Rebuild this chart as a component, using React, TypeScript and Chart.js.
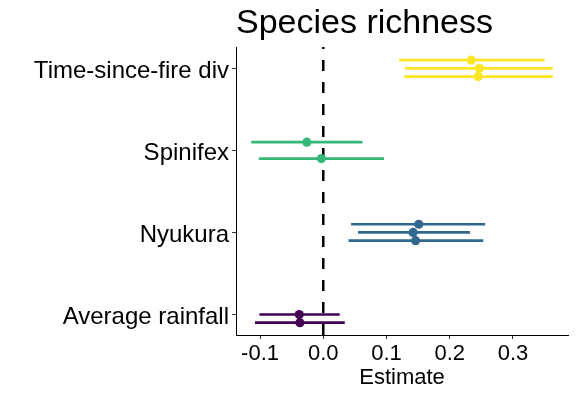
import React, { useEffect, useRef } from 'react';
import { Chart, registerables } from 'chart.js';

Chart.register(...registerables);

const chartTitle = 'Species richness';
const xAxisTitle = 'Estimate';

// Categories listed top to bottom
const categories = ['Time-since-fire div', 'Spinifex', 'Nyukura', 'Average rainfall'];
const colors = ['#FDE725', '#35B779', '#31688E', '#440154'];

// Model index (1 = top row of dodge, 2 = middle, 3 = bottom)
const tsfModel = [1, 2, 3];
const tsfEstimate = [0.234, 0.247, 0.245];
const tsfLower = [0.120, 0.129, 0.128];
const tsfUpper = [0.350, 0.363, 0.363];

const spinModel = [1, 3];
const spinEstimate = [-0.026, -0.003];
const spinLower = [-0.114, -0.102];
const spinUpper = [0.062, 0.096];

const nyuModel = [1, 2, 3];
const nyuEstimate = [0.151, 0.142, 0.146];
const nyuLower = [0.044, 0.055, 0.040];
const nyuUpper = [0.256, 0.232, 0.253];

const rainModel = [2, 3];
const rainEstimate = [-0.038, -0.037];
const rainLower = [-0.101, -0.108];
const rainUpper = [0.026, 0.034];

const xTicks = [-0.1, 0, 0.1, 0.2, 0.3];
const refLine = 0;

const groups = [
  { model: tsfModel, est: tsfEstimate, lo: tsfLower, hi: tsfUpper },
  { model: spinModel, est: spinEstimate, lo: spinLower, hi: spinUpper },
  { model: nyuModel, est: nyuEstimate, lo: nyuLower, hi: nyuUpper },
  { model: rainModel, est: rainEstimate, lo: rainLower, hi: rainUpper },
];

const DODGE = 0.1;
const X_MIN = -0.138;
const X_MAX = 0.387;
const Y_MIN = 0.75;
const Y_MAX = 4.26;
const FONT = '"Liberation Sans", Arial, Helvetica, sans-serif';

export default function App() {
  const ref = useRef<HTMLCanvasElement>(null);

  useEffect(() => {
    document.body.style.margin = '0';
    const datasets: any[] = [];
    groups.forEach((g, gi) => {
      const base = categories.length - gi;
      g.est.forEach((_e, j) => {
        const y = base + (2 - g.model[j]) * DODGE;
        datasets.push({
          data: [{ x: g.lo[j], y }, { x: g.hi[j], y }],
          showLine: true,
          borderColor: colors[gi],
          borderWidth: 2.7,
          pointRadius: 0,
          order: 2,
        });
      });
      datasets.push({
        data: g.est.map((e, j) => ({ x: e, y: base + (2 - g.model[j]) * DODGE })),
        backgroundColor: colors[gi],
        borderColor: colors[gi],
        pointRadius: 4.6,
        borderWidth: 0,
        order: 0,
      });
    });
    datasets.push({
      data: [{ x: refLine, y: Y_MIN }, { x: refLine, y: Y_MAX }],
      showLine: true,
      borderColor: '#000',
      borderWidth: 2.5,
      borderDash: [11, 11],
      pointRadius: 0,
      order: 1,
    });

    const titlePlugin = {
      id: 'customTitle',
      afterDraw(chart: any) {
        const ctx = chart.ctx;
        ctx.save();
        ctx.font = `34px ${FONT}`;
        ctx.fillStyle = '#000';
        ctx.textBaseline = 'alphabetic';
        ctx.textAlign = 'left';
        ctx.fillText(chartTitle, chart.chartArea.left, 33);
        ctx.restore();
      },
    };

    const chart = new Chart(ref.current!, {
      type: 'scatter',
      data: { datasets },
      plugins: [titlePlugin],
      options: {
        animation: false,
        responsive: false,
        layout: { padding: { top: 47, right: 8, left: 0, bottom: 0 } },
        plugins: { legend: { display: false }, tooltip: { enabled: false } },
        scales: {
          x: {
            type: 'linear',
            min: X_MIN,
            max: X_MAX,
            afterBuildTicks: (s: any) => {
              s.ticks = xTicks.map((v) => ({ value: v }));
            },
            afterFit: (s: any) => {
              s.height = 63;
            },
            ticks: {
              callback: (v: any) => Number(v).toFixed(1),
              font: { size: 22, family: FONT },
              color: '#000',
              padding: 2,
              maxRotation: 0,
              autoSkip: false,
            },
            grid: { drawOnChartArea: false, tickLength: 4, color: '#333' },
            border: { color: '#000', width: 1 },
            title: {
              display: true,
              text: xAxisTitle,
              font: { size: 22, family: FONT },
              color: '#000',
              padding: { top: 0, bottom: 7 },
            },
          },
          y: {
            type: 'linear',
            min: Y_MIN,
            max: Y_MAX,
            afterBuildTicks: (s: any) => {
              s.ticks = categories.map((_c, i) => ({ value: categories.length - i }));
            },
            afterFit: (s: any) => {
              s.width = 236;
            },
            ticks: {
              callback: (v: any) => categories[categories.length - Number(v)],
              font: { size: 24, family: FONT },
              color: '#000',
              padding: 3,
              labelOffset: 3,
              autoSkip: false,
            },
            grid: { drawOnChartArea: false, tickLength: 4, color: '#333' },
            border: { color: '#000', width: 1 },
          },
        },
      },
    });
    return () => chart.destroy();
  }, []);

  return (
    <div style={{ position: 'absolute', left: 0, top: 0, width: 576, height: 398 }}>
      <canvas ref={ref} width={576} height={398} />
    </div>
  );
}
